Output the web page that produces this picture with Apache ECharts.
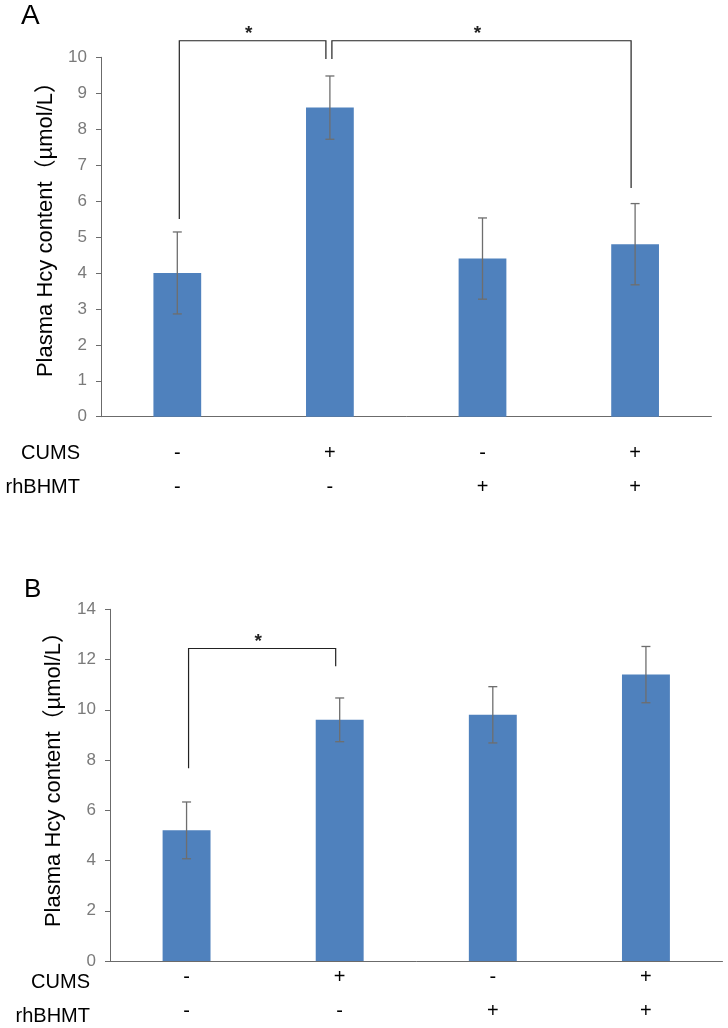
<!DOCTYPE html>
<html>
<head>
<meta charset="utf-8">
<script src="https://cdn.jsdelivr.net/npm/echarts@6/dist/echarts.min.js"></script>
<style>html,body{margin:0;padding:0;background:#fff}#c{width:728px;height:1028px}</style>
</head>
<body>
<div id="c"></div>
<script>
// ---- data ----
const categories = ['G1', 'G2', 'G3', 'G4'];
const cumsRow = ['-', '+', '-', '+'];
const rhbhmtRow = ['-', '-', '+', '+'];
const meanA = [4.0, 8.6, 4.4, 4.8];
const errA = [1.14, 0.88, 1.13, 1.13];
const meanB = [5.2, 9.6, 9.8, 11.4];
const errB = [1.13, 0.87, 1.12, 1.12];
// brackets: [fromCat, toCat, barHeight, leftLegEnd, rightLegEnd]
const bracketsA = [[0, 1, 10.46, 5.5, 9.95], [1, 3, 10.46, 9.95, 6.36]];
const bracketsB = [[0, 1, 12.44, 7.67, 11.73]];
const yTitle = 'Plasma Hcy content（µmol/L）';
const rowNames = ['CUMS', 'rhBHMT'];

const FONT = "'Liberation Sans', 'Noto Sans CJK SC', sans-serif";
const AXIS_COLOR = '#6b6b6b';
const BAR_COLOR = '#4F81BD';

const chart = echarts.init(document.getElementById('c'), null, {renderer: 'canvas'});

function errRender(params, api) {
  const x = api.value(0), m = api.value(1), e = api.value(2);
  const t = api.coord([x, m + e]);
  const b = api.coord([x, m - e]);
  const w = 4.5;
  const st = {stroke: '#6e6e6e', lineWidth: 1.3};
  return {type: 'group', children: [
    {type: 'line', shape: {x1: t[0], y1: t[1], x2: b[0], y2: b[1]}, style: st},
    {type: 'line', shape: {x1: t[0] - w, y1: t[1], x2: t[0] + w, y2: t[1]}, style: st},
    {type: 'line', shape: {x1: b[0] - w, y1: b[1], x2: b[0] + w, y2: b[1]}, style: st}
  ]};
}

function bracketRender(params, api) {
  const c0 = api.value(0), c1 = api.value(1), top = api.value(2), l0 = api.value(3), l1 = api.value(4);
  const a = api.coord([c0, l0]);
  const at = api.coord([c0, top]);
  const bt = api.coord([c1, top]);
  const b = api.coord([c1, l1]);
  const x0 = a[0] + 2, x1 = b[0] - 4;
  return {type: 'group', children: [
    {type: 'polyline', shape: {points: [[x0, a[1]], [x0, at[1]], [x1, bt[1]], [x1, b[1]]]},
     style: {stroke: '#222', lineWidth: 1.2, fill: null}},
    {type: 'text', style: {text: '*', x: (x0 + x1) / 2 - 4, y: at[1] - 7, align: 'center', verticalAlign: 'middle',
      font: 'bold 19px ' + FONT, fill: '#222'}}
  ]};
}

function xAxisCfg(gridIndex, margin) {
  return {
    type: 'category', gridIndex: gridIndex, data: categories,
    axisLine: {lineStyle: {color: AXIS_COLOR, width: 1}},
    axisTick: {show: false},
    axisLabel: {
      margin: margin, color: '#000', fontSize: 20, fontFamily: FONT, lineHeight: 34,
      formatter: (v, i) => cumsRow[i] + '\n' + rhbhmtRow[i]
    },
    splitLine: {show: false}
  };
}

function yAxisCfg(gridIndex, max, interval) {
  return {
    type: 'value', gridIndex: gridIndex, min: 0, max: max, interval: interval,
    axisLine: {show: true, lineStyle: {color: AXIS_COLOR, width: 1}},
    axisTick: {show: true, length: 5, lineStyle: {color: AXIS_COLOR}},
    axisLabel: {color: '#7a7a7a', fontSize: 17, fontFamily: FONT, margin: 14},
    splitLine: {show: false}
  };
}

const option = {
  animation: false,
  backgroundColor: '#fff',
  grid: [
    {left: 101, top: 57.3, right: 16.6, bottom: 611.3},
    {left: 110, top: 609.3, right: 5.5, bottom: 61.3}
  ],
  xAxis: [xAxisCfg(0, 20), xAxisCfg(1, -1)],
  yAxis: [yAxisCfg(0, 10, 1), yAxisCfg(1, 14, 2)],
  series: [
    {type: 'bar', xAxisIndex: 0, yAxisIndex: 0, data: meanA, barWidth: '31.3%', itemStyle: {color: BAR_COLOR}},
    {type: 'bar', xAxisIndex: 1, yAxisIndex: 1, data: meanB, barWidth: '31.3%', itemStyle: {color: BAR_COLOR}},
    {type: 'custom', xAxisIndex: 0, yAxisIndex: 0, renderItem: errRender, clip: false,
     data: meanA.map((m, i) => [i, m, errA[i]]), encode: {x: 0, y: 1}, z: 5},
    {type: 'custom', xAxisIndex: 1, yAxisIndex: 1, renderItem: errRender, clip: false,
     data: meanB.map((m, i) => [i, m, errB[i]]), encode: {x: 0, y: 1}, z: 5},
    {type: 'custom', xAxisIndex: 0, yAxisIndex: 0, renderItem: bracketRender, clip: false,
     data: bracketsA, encode: {x: 0, y: 2}, z: 6},
    {type: 'custom', xAxisIndex: 1, yAxisIndex: 1, renderItem: bracketRender, clip: false,
     data: bracketsB, encode: {x: 0, y: 2}, z: 6}
  ],
  graphic: [
    {type: 'text', left: 21, top: 2, style: {text: 'A', font: '28px ' + FONT, fill: '#000'}},
    {type: 'text', left: 24, top: 577, style: {text: 'B', font: '26px ' + FONT, fill: '#000'}},
    {type: 'text', x: 46, y: 224, rotation: Math.PI / 2,
     style: {text: yTitle, font: '22px ' + FONT, fill: '#000', align: 'center', verticalAlign: 'middle'}},
    {type: 'text', x: 54, y: 774, rotation: Math.PI / 2,
     style: {text: yTitle, font: '22px ' + FONT, fill: '#000', align: 'center', verticalAlign: 'middle'}},
    {type: 'text', x: 80, y: 453.3, style: {text: rowNames[0], font: '20px ' + FONT, fill: '#000', align: 'right', verticalAlign: 'middle'}},
    {type: 'text', x: 80, y: 487.3, style: {text: rowNames[1], font: '20px ' + FONT, fill: '#000', align: 'right', verticalAlign: 'middle'}},
    {type: 'text', x: 90, y: 982.7, style: {text: rowNames[0], font: '20px ' + FONT, fill: '#000', align: 'right', verticalAlign: 'middle'}},
    {type: 'text', x: 90, y: 1016.7, style: {text: rowNames[1], font: '20px ' + FONT, fill: '#000', align: 'right', verticalAlign: 'middle'}}
  ]
};
chart.setOption(option);
</script>
</body>
</html>
